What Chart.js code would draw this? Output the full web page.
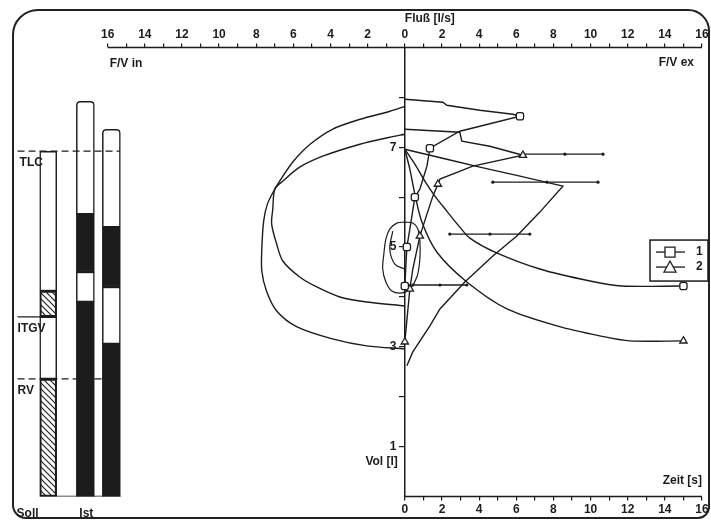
<!DOCTYPE html>
<html>
<head>
<meta charset="utf-8">
<script src="https://cdn.jsdelivr.net/npm/chart.js@4/dist/chart.umd.min.js"></script>
<style>
  html, body { margin: 0; padding: 0; background: #fff; }
  #wrap { position: relative; width: 711px; height: 522px; overflow: hidden; }
  #frame { position: absolute; left: 12px; top: 9px; width: 698px; height: 510px; box-sizing: border-box;
           border: 2px solid #222; border-radius: 26px 22px 12px 14px; }
  #c { position: absolute; left: 0; top: 0; }
</style>
</head>
<body>
<div id="wrap">
  <div id="frame"></div>
  <canvas id="c" width="711" height="522"></canvas>
</div>
<script>
// ---- Fluss-Volumen, Messung 1 (Quadrat)
var insp1Flow = [0, -0.8, -2.4, -3.9, -5.1, -6.0, -6.6, -7.0, -7.4, -7.6, -7.7, -7.7, -7.45, -6.9, -5.8, -3.9, -2.05, 0];
var insp1Vol  = [7.82, 7.72, 7.56, 7.36, 7.06, 6.72, 6.4, 6.16, 5.86, 5.52, 4.96, 4.52, 4.12, 3.72, 3.4, 3.16, 3.02, 2.96];
var exp1Flow  = [0, 2.05, 2.26, 4.04, 5.82, 6.2, 4.04, 2.96, 1.35, 1.19, 0.81, 0.54, 0.27, 0.11, 0];
var exp1Vol   = [7.96, 7.9, 7.84, 7.74, 7.66, 7.62, 7.42, 7.32, 6.98, 6.62, 6.16, 6.0, 5.36, 5.0, 4.22];
var exp1Marks = [5, 8, 11, 13, 14];

// ---- Fluss-Volumen, Messung 2 (Dreieck)
var insp2Flow = [0, -0.81, -2.42, -4.42, -5.66, -6.57, -7.0, -7.11, -7.17, -6.9, -6.57, -5.66, -4.74, -3.5, -2.05, 0];
var insp2Vol  = [7.26, 7.2, 7.06, 6.82, 6.6, 6.32, 6.16, 5.76, 5.46, 5.06, 4.72, 4.4, 4.2, 4.0, 3.9, 3.82];
var exp2Flow  = [0, 2.96, 3.07, 4.58, 6.36, 3.66, 1.89, 1.78, 1.51, 1.19, 0.81, 0.43, 0.27, 0];
var exp2Vol   = [7.36, 7.3, 7.12, 7.02, 6.84, 6.62, 6.36, 6.26, 6.02, 5.66, 5.22, 4.56, 4.16, 3.1];
var exp2Marks = [4, 7, 10, 12, 13];

// ---- Ruheatmung
var tidalFlow = [0, -0.43, -0.81, -1.02, -1.13, -1.19, -1.02, -0.7, -0.16, 0.27, 0.65, 0.81, 0.81, 0.7, 0.43, 0];
var tidalVol  = [5.5, 5.48, 5.36, 5.16, 4.86, 4.56, 4.3, 4.12, 4.08, 4.16, 4.4, 4.76, 5.12, 5.36, 5.48, 5.5];
var tidal2Flow = [-0.65, -0.81, -0.54, 0];
var tidal2Vol  = [5.32, 4.96, 4.66, 4.56];

// ---- Soll-Kurve und Sollbereiche (PEF, MEF75, MEF50, MEF25)
var sollFlow = [0, 2.26, 4.04, 6.2, 8.51, 7.27, 6.03, 4.74, 3.23, 1.89, 1.35, 0.43, 0.11];
var sollVol  = [6.96, 6.76, 6.6, 6.42, 6.22, 5.7, 5.22, 4.82, 4.3, 3.76, 3.42, 2.9, 2.62];
var rangeVol  = [6.86, 6.3, 5.26, 4.24];
var rangeLow  = [6.36, 4.74, 2.42, 0.43];
var rangeMid  = [8.62, 7.65, 4.58, 1.89];
var rangeHigh = [10.67, 10.4, 6.73, 3.34];

// ---- Volumen-Zeit
var time1 = [0, 0.54, 1.08, 1.62, 2.26, 2.96, 3.5, 4.85, 7.27, 9.97, 11.69, 15.0];
var vt1   = [6.96, 6.66, 6.32, 6.02, 5.72, 5.4, 5.18, 4.9, 4.56, 4.32, 4.22, 4.22];
var time2 = [0, 0.27, 0.54, 0.92, 1.72, 3.34, 5.5, 8.19, 10.5, 12.12, 15.0];
var vt2   = [6.96, 6.56, 6.06, 5.5, 4.9, 4.3, 3.76, 3.42, 3.22, 3.12, 3.12];

// ---- Lungenvolumina (Soll / Ist)
var sollTLC = 6.92, sollITGV = 3.6, sollRV = 2.36;
var sollHatched = [[0, 2.36], [3.6, 4.12]];
var sollOpen    = [[2.36, 3.6], [4.12, 6.92]];
var ist1Black = [[0, 3.9], [4.5, 5.66]];
var ist1White = [[3.9, 4.5], [5.66, 7.92]];
var ist2Black = [[0, 3.06], [4.2, 5.4]];
var ist2White = [[3.06, 4.2], [5.4, 7.36]];

var INK = '#1c1c1c';
var FONT = '"Liberation Sans", Arial, sans-serif';
var XMIN = -21.5, XMAX = 16;
// slots for the volume bars (in flow units, left of the F/V axis)
var SLOT_SOLL = -19.2, SLOT_IST1 = -17.2, SLOT_IST2 = -15.8;
var PANEL_L = -20.85, PANEL_R = -15.35;

function pts(xs, ys) { return xs.map(function (x, i) { return {x: x, y: ys[i]}; }); }

function curve(xs, ys, extra) {
  return Object.assign({
    type: 'scatter', data: pts(xs, ys), showLine: true, borderColor: INK, borderWidth: 1.4,
    pointRadius: 0, tension: 0, fill: false, order: 0
  }, extra || {});
}

function marked(xs, ys, marks, style, extra) {
  return curve(xs, ys, Object.assign({
    pointRadius: function (c) { return marks.indexOf(c.dataIndex) >= 0 ? 4.2 : 0; },
    pointStyle: style, pointBackgroundColor: '#fff', pointBorderColor: INK, pointBorderWidth: 1.3
  }, extra || {}));
}

function hatch() {
  var c = document.createElement('canvas'); c.width = 6; c.height = 6;
  var g = c.getContext('2d');
  g.strokeStyle = INK; g.lineWidth = 1.1;
  g.beginPath();
  g.moveTo(0, 0); g.lineTo(6, 6);
  g.moveTo(-1, 5); g.lineTo(1, 7);
  g.moveTo(5, -1); g.lineTo(7, 1);
  g.stroke();
  return g.createPattern(c, 'repeat');
}
var HATCH = hatch();

function barSegs(slot, segs, fill, width, radius) {
  return {
    type: 'bar', order: 5, grouped: false, barThickness: width,
    data: segs.map(function (s) { return {x: slot, y: s}; }),
    backgroundColor: fill, borderColor: INK, borderWidth: 1.5, borderSkipped: false,
    borderRadius: radius || 0
  };
}

var datasets = [
  curve(insp1Flow, insp1Vol, {tension: 0.3}),
  curve(insp2Flow, insp2Vol, {tension: 0.3}),
  marked(exp1Flow, exp1Vol, exp1Marks, 'rectRounded'),
  marked(exp2Flow, exp2Vol, exp2Marks, 'triangle'),
  curve(tidalFlow, tidalVol, {tension: 0.35, borderWidth: 1.2}),
  curve(tidal2Flow, tidal2Vol, {tension: 0.35, borderWidth: 1.2}),
  curve(sollFlow, sollVol),
  marked(time1, vt1, [time1.length - 1], 'rectRounded', {tension: 0.3}),
  marked(time2, vt2, [time2.length - 1], 'triangle', {tension: 0.3})
];

rangeVol.forEach(function (v, i) {
  datasets.push(curve([rangeLow[i], rangeMid[i], rangeHigh[i]], [v, v, v], {
    borderWidth: 1.3, pointRadius: 1.6, pointBackgroundColor: INK, pointBorderWidth: 0
  }));
});

// Soll / Ist Saeulen
datasets.push(barSegs(SLOT_SOLL, sollHatched, HATCH, 17));
datasets.push(barSegs(SLOT_SOLL, sollOpen, '#fff', 17));
datasets.push(barSegs(SLOT_IST1, ist1Black, INK, 18));
datasets.push(barSegs(SLOT_IST1, ist1White, '#fff', 18,
  function (c) { return c.dataIndex === 1 ? {topLeft: 4, topRight: 4} : 0; }));
datasets.push(barSegs(SLOT_IST2, ist2Black, INK, 18));
datasets.push(barSegs(SLOT_IST2, ist2White, '#fff', 18,
  function (c) { return c.dataIndex === 1 ? {topLeft: 4, topRight: 4} : 0; }));

// TLC / ITGV / RV Linien und Grundlinie
datasets.push(curve([PANEL_L, PANEL_R], [sollTLC, sollTLC], {borderDash: [7, 4], borderWidth: 1.3}));
datasets.push(curve([PANEL_L, SLOT_SOLL + 0.45], [sollITGV, sollITGV], {borderWidth: 1.3}));
datasets.push(curve([PANEL_L, PANEL_R - 0.5], [sollRV, sollRV], {borderDash: [7, 4], borderWidth: 1.3}));
datasets.push(curve([SLOT_SOLL - 0.45, SLOT_IST2 + 0.5], [0, 0], {borderWidth: 1.5}));

function intTicks(a, b) {
  var t = [];
  for (var v = a; v <= b; v++) t.push({value: v});
  return t;
}

var tickFont = {family: FONT, size: 12, weight: 'bold'};

var deco = {
  id: 'deco',
  afterDraw: function (chart) {
    var ctx = chart.ctx, a = chart.chartArea, x = chart.scales.x, y = chart.scales.y;
    var px = function (v) { return x.getPixelForValue(v); };
    var py = function (v) { return y.getPixelForValue(v); };
    ctx.save();
    ctx.strokeStyle = INK; ctx.fillStyle = INK; ctx.lineWidth = 1.5;
    // F/V axis line (top) and time axis line (bottom)
    ctx.beginPath(); ctx.moveTo(px(-16), a.top); ctx.lineTo(px(16), a.top); ctx.stroke();
    ctx.beginPath(); ctx.moveTo(px(0), py(0)); ctx.lineTo(px(16), py(0)); ctx.stroke();

    ctx.font = 'bold 12px ' + FONT;
    ctx.textBaseline = 'middle';
    function txt(s, tx, ty, al) { ctx.textAlign = al || 'left'; ctx.fillText(s, tx, ty); }
    txt('Fluß [l/s]', px(0), a.top - 29);
    txt('F/V in', px(-16) + 2, a.top + 16);
    txt('F/V ex', px(16) - 8, a.top + 15, 'right');
    txt('Vol [l]', px(0) - 7, py(0.7), 'right');
    txt('Zeit [s]', px(16), py(0.32), 'right');
    txt('TLC', px(PANEL_L) + 2, py(sollTLC - 0.22));
    txt('ITGV', px(PANEL_L), py(sollITGV - 0.24));
    txt('RV', px(PANEL_L), py(sollRV - 0.24));
    txt('Soll', px(PANEL_L) - 1, py(-0.34));
    txt('Ist', px(SLOT_IST1) - 6, py(-0.34));

    // legend box
    var lx = px(13.2), ly = py(5.14), lw = 58, lh = 41;
    ctx.lineWidth = 1.5;
    ctx.strokeRect(lx, ly, lw, lh);
    var rows = [{s: 'rect', t: '1', yy: ly + 12}, {s: 'tri', t: '2', yy: ly + 27}];
    rows.forEach(function (r) {
      ctx.lineWidth = 1.3;
      ctx.beginPath(); ctx.moveTo(lx + 6, r.yy); ctx.lineTo(lx + 35, r.yy); ctx.stroke();
      var cx = lx + 20;
      ctx.fillStyle = '#fff';
      ctx.beginPath();
      if (r.s === 'rect') {
        ctx.rect(cx - 5, r.yy - 5, 10, 10);
      } else {
        ctx.moveTo(cx, r.yy - 6); ctx.lineTo(cx + 6, r.yy + 5); ctx.lineTo(cx - 6, r.yy + 5); ctx.closePath();
      }
      ctx.fill(); ctx.stroke();
      ctx.fillStyle = INK;
      ctx.font = 'bold 12px ' + FONT;
      txt(r.t, lx + 46, r.yy);
    });
    ctx.restore();
  }
};

new Chart(document.getElementById('c'), {
  type: 'scatter',
  data: {datasets: datasets},
  options: {
    responsive: false,
    animation: false,
    devicePixelRatio: 1,
    layout: {padding: {left: 0, right: 9, top: 25, bottom: 3}},
    plugins: {legend: {display: false}, tooltip: {enabled: false}},
    scales: {
      x: {
        type: 'linear', position: 'top', min: XMIN, max: XMAX, offset: false,
        afterBuildTicks: function (s) { s.ticks = intTicks(-16, 16); },
        ticks: {
          autoSkip: false, maxRotation: 0, padding: 2, color: INK, font: tickFont,
          callback: function (v) { return v % 2 === 0 ? String(Math.abs(v)) : ''; }
        },
        grid: {drawOnChartArea: false, offset: false, tickLength: 4, color: INK, lineWidth: 1.2},
        border: {display: false}
      },
      x2: {
        type: 'linear', axis: 'x', position: 'bottom', min: XMIN, max: XMAX, offset: false,
        afterBuildTicks: function (s) { s.ticks = intTicks(0, 16); },
        ticks: {
          autoSkip: false, maxRotation: 0, padding: 2, color: INK, font: tickFont,
          callback: function (v) { return v % 2 === 0 ? String(v) : ''; }
        },
        grid: {drawOnChartArea: false, offset: false, tickLength: 4, color: INK, lineWidth: 1.2},
        border: {display: false}
      },
      y: {
        type: 'linear', position: {x: 0}, min: 0, max: 9, offset: false,
        afterBuildTicks: function (s) { s.ticks = intTicks(1, 8); },
        ticks: {
          autoSkip: false, padding: 1, color: INK, font: tickFont,
          // label sits right-aligned at the axis, so pad it with spaces
          callback: function (v) { return v % 2 === 1 ? String(v) + '\u2002\u2009' : ''; }
        },
        grid: {drawOnChartArea: false, tickLength: 5, color: INK, lineWidth: 1.2},
        border: {display: true, color: INK, width: 1.5}
      }
    }
  },
  plugins: [deco]
});
</script>
</body>
</html>
